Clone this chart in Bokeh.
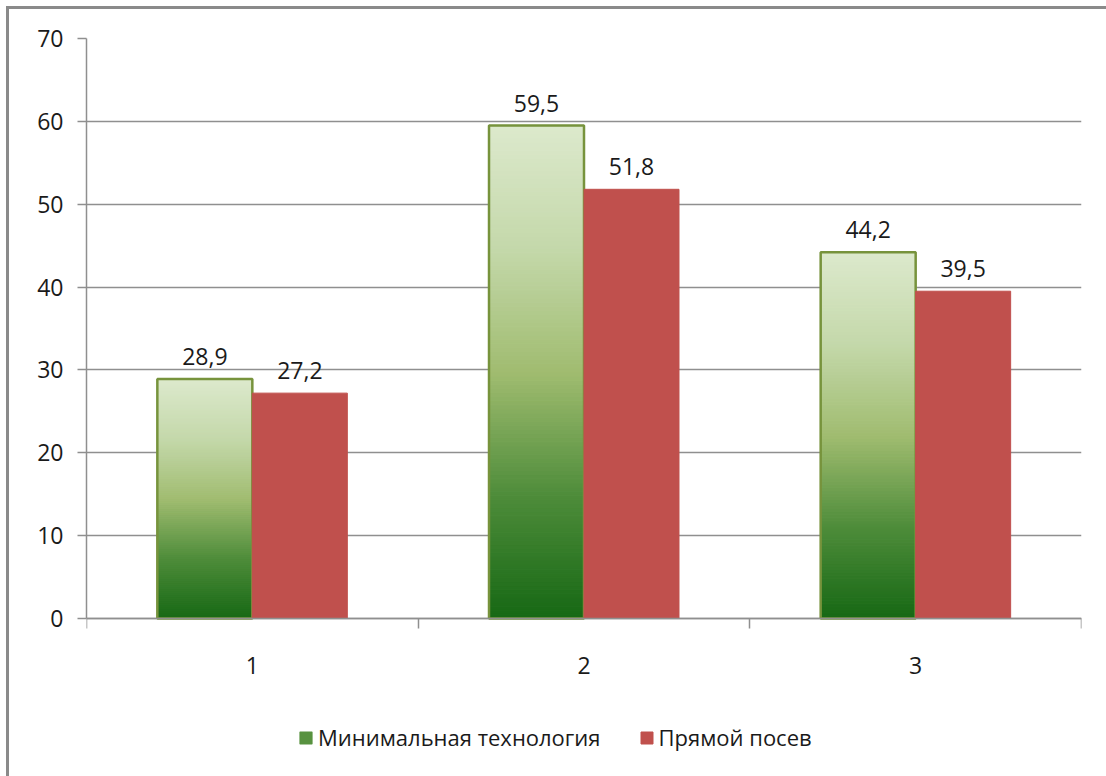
from bokeh.plotting import figure
from bokeh.models import Range1d, FixedTicker, ColumnDataSource, Legend, LegendItem, LabelSet
from bokeh.core.properties import value
from bokeh.embed import file_html
from bokeh.resources import INLINE

# --- data -------------------------------------------------------------
categories = ["1", "2", "3"]
series_names = ["Минимальная технология", "Прямой посев"]
minimal_tech = [28.9, 59.5, 44.2]
direct_sowing = [27.2, 51.8, 39.5]
y_ticks = [0, 10, 20, 30, 40, 50, 60, 70]

FONT = "Open Sans"
GRID = "#8f8f8f"
RED = "#c0504d"
OLIVE = "#77933c"
TXT = "#1a1a1a"

# gradient stops for the green bars (fraction of bar height -> rgb)
grad_stops = [(0.0, (22, 104, 20)), (0.25, (78, 140, 58)), (0.5, (160, 188, 112)),
              (0.75, (196, 216, 170)), (1.0, (220, 233, 204))]


def grad_color(t):
    for (t0, c0), (t1, c1) in zip(grad_stops[:-1], grad_stops[1:]):
        if t0 <= t <= t1:
            k = (t - t0) / (t1 - t0)
            return "#%02x%02x%02x" % tuple(int(round(a + (b - a) * k)) for a, b in zip(c0, c1))
    return "#%02x%02x%02x" % grad_stops[-1][1]


# the plotting frame runs down to the bottom edge; 0..70 occupies its upper 580 px,
# the space beneath the value axis holds the category labels and the legend
Y_MAX = y_ticks[-1]
VALUE_PX = 580
FRAME_H = 738
y_min = Y_MAX - FRAME_H * Y_MAX / VALUE_PX

p = figure(width=1097, height=767, frame_width=995, frame_height=FRAME_H,
           output_backend="svg", toolbar_location=None,
           x_range=Range1d(0.5, 3.5), y_range=Range1d(y_min, Y_MAX),
           min_border_left=77, min_border_right=25, min_border_top=29,
           min_border_bottom=0)
p.margin = (6, 0, 0, 6)
p.styles = {"border-left": "3px solid #8a8a8a", "border-top": "3px solid #8a8a8a"}
p.outline_line_color = None
p.background_fill_color = "white"
p.border_fill_color = "white"

bw = 0.2864  # bar width in category units (gap width 150%)
xc = [i + 1 for i in range(len(categories))]

# green bars: vertical gradient built from thin horizontal slices
N = 120
gl, gr, gb, gt, gc = [], [], [], [], []
for x, v in zip(xc, minimal_tech):
    for k in range(N):
        gl.append(x - bw)
        gr.append(x)
        gb.append(v * k / N)
        gt.append(v * (k + 1) / N)
        gc.append(grad_color((k + 0.5) / N))
r_green = p.quad(left=gl, right=gr, bottom=gb, top=gt, fill_color=gc, line_color=gc,
                 line_width=1.2)
p.quad(left=[x - bw for x in xc], right=xc, bottom=0, top=minimal_tech,
       fill_alpha=0, line_color=OLIVE, line_width=2.5)

r_red = p.quad(left=xc, right=[x + bw for x in xc], bottom=0, top=direct_sowing,
               fill_color=RED, line_color=RED, line_width=1)

# value labels
lab_src = ColumnDataSource(dict(
    x=[x - bw / 2 for x in xc] + [x + bw / 2 for x in xc],
    y=minimal_tech + direct_sowing,
    t=[("%.1f" % v).replace(".", ",") for v in minimal_tech + direct_sowing]))
p.add_layout(LabelSet(x="x", y="y", text="t", source=lab_src, text_align="center",
                      text_baseline="bottom", y_offset=14, text_font=value(FONT),
                      text_font_size=value("23px"), text_color=TXT))

# axes
p.yaxis.ticker = FixedTicker(ticks=y_ticks)
p.yaxis.bounds = (0, Y_MAX)
p.yaxis.axis_line_color = GRID
p.yaxis.axis_line_width = 1.5
p.yaxis.major_tick_line_color = GRID
p.yaxis.major_tick_line_width = 1.5
p.yaxis.major_tick_out = 9
p.yaxis.major_tick_in = 0
p.yaxis.minor_tick_line_color = None
p.yaxis.major_label_standoff = 14
p.yaxis.major_label_text_font = FONT
p.yaxis.major_label_text_font_size = "23px"
p.yaxis.major_label_text_color = TXT

p.xaxis.fixed_location = 0
p.xaxis.ticker = FixedTicker(ticks=xc, minor_ticks=[0.5, 1.5, 2.5, 3.5])
p.xaxis.major_label_overrides = {x: c for x, c in zip(xc, categories)}
p.xaxis.axis_line_color = GRID
p.xaxis.axis_line_width = 1.5
p.xaxis.major_tick_line_color = None
p.xaxis.minor_tick_line_color = GRID
p.xaxis.minor_tick_line_width = 1.5
p.xaxis.minor_tick_out = 10
p.xaxis.minor_tick_in = 0
p.xaxis.major_label_standoff = 28
p.xaxis.major_label_text_font = FONT
p.xaxis.major_label_text_font_size = "23px"
p.xaxis.major_label_text_color = TXT

p.xgrid.grid_line_color = None
p.ygrid.ticker = FixedTicker(ticks=y_ticks)
p.ygrid.grid_line_color = GRID
p.ygrid.grid_line_width = 1.5

# legend beneath the category labels
legend = Legend(items=[LegendItem(label=series_names[0], renderers=[r_green], index=33),
                       LegendItem(label=series_names[1], renderers=[r_red], index=0)],
                orientation="horizontal", location=(212, 24),
                label_text_font=FONT, label_text_font_size="22px",
                label_text_color=TXT, glyph_width=15, glyph_height=15,
                label_standoff=5, spacing=38, border_line_color=None,
                background_fill_alpha=0, margin=0, padding=0)
p.add_layout(legend, "center")

open("out.html", "w").write(file_html(p, INLINE))
